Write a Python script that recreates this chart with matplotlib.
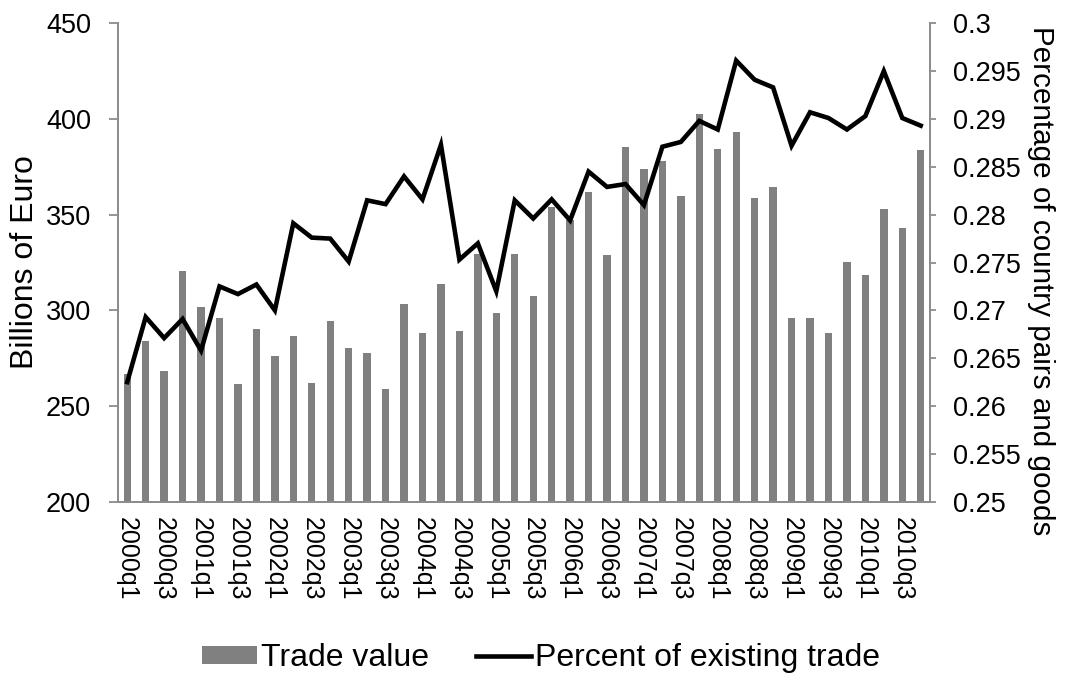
import matplotlib
matplotlib.use('Agg')
import matplotlib.pyplot as plt
import numpy as np

plt.rcParams['font.family'] = ['Liberation Sans', 'DejaVu Sans']
plt.rcParams['font.size'] = 18

quarters = [f'{y}q{q}' for y in range(2000, 2011) for q in range(1, 5)]

trade_value = [266.7, 284.0, 268.3, 320.6, 301.6, 296.0, 261.5, 290.1, 276.0, 286.6,
               261.9, 294.4, 280.2, 277.5, 259.0, 303.3, 288.3, 313.6, 289.2, 329.4,
               298.5, 329.3, 307.3, 354.2, 347.2, 361.7, 328.8, 385.5, 373.7, 378.0,
               359.6, 402.4, 384.3, 393.0, 358.5, 364.5, 296.2, 296.0, 288.2, 325.3,
               318.5, 352.8, 342.9, 383.8]

pct_existing = [0.2625, 0.2693, 0.2671, 0.2691, 0.2658, 0.2725, 0.2717, 0.2727, 0.2700, 0.2791,
                0.2776, 0.2775, 0.2751, 0.2815, 0.2811, 0.2840, 0.2816, 0.2873, 0.2753, 0.2770,
                0.2720, 0.2815, 0.2796, 0.2816, 0.2794, 0.2845, 0.2829, 0.2832, 0.2810, 0.2871,
                0.2876, 0.2898, 0.2889, 0.2961, 0.2941, 0.2933, 0.2872, 0.2907, 0.2901, 0.2889,
                0.2903, 0.2950, 0.2901, 0.2893]

left_ticks = [200, 250, 300, 350, 400, 450]
right_ticks = [0.25, 0.255, 0.26, 0.265, 0.27, 0.275, 0.28, 0.285, 0.29, 0.295, 0.3]
right_labels = ['0.25', '0.255', '0.26', '0.265', '0.27', '0.275', '0.28', '0.285', '0.29', '0.295', '0.3']

AXIS_GREY = '#8c8c8c'

fig = plt.figure(figsize=(10.65, 6.75), dpi=100)
ax = fig.add_axes([0.1108, 0.2567, 0.7624, 0.7088])
ax2 = ax.twinx()

x = np.arange(len(quarters))
bars = ax.bar(x, trade_value, width=0.4, color='#808080', label='Trade value', zorder=2)
line, = ax2.plot(x, pct_existing, color='black', linewidth=3.3, label='Percent of existing trade',
                 solid_joinstyle='miter')

ax.set_xlim(-0.5, len(quarters) - 0.5)
ax.set_ylim(200, 450)
ax.set_yticks(left_ticks)
ax.set_yticklabels([str(t) for t in left_ticks], fontsize=19.5)
ax2.set_ylim(0.25, 0.3)
ax2.set_yticks(right_ticks)
ax2.set_yticklabels(right_labels, fontsize=19.5)

ax.set_xticks(x[::2])
ax.set_xticklabels(quarters[::2], rotation=-90, va='top', ha='center', fontsize=18)

for a in (ax, ax2):
    a.spines['top'].set_visible(False)
    for s in ('left', 'right', 'bottom'):
        a.spines[s].set_color(AXIS_GREY)
        a.spines[s].set_linewidth(1.3)
ax.tick_params(axis='y', color=AXIS_GREY, length=6.5, width=1.3, pad=13)
ax2.tick_params(axis='y', color=AXIS_GREY, length=4.5, width=1.3, pad=12)
ax.tick_params(axis='x', length=0, pad=11)

ax.set_ylabel('Billions of Euro', fontsize=23, labelpad=4)
ax2.set_ylabel('Percentage of country pairs and goods', fontsize=21.3, rotation=-90,
               rotation_mode='anchor', ha='center', va='center')
ax2.yaxis.set_label_coords(1.137, 0.461)

fig.legend(handles=[bars, line], loc='lower center', bbox_to_anchor=(0.508, -0.026), ncol=2,
           frameon=False, fontsize=23, handlelength=1.72, handleheight=0.45,
           handletextpad=0.12, columnspacing=1.5, borderaxespad=0.2)

fig.savefig('out.png', dpi=100)
